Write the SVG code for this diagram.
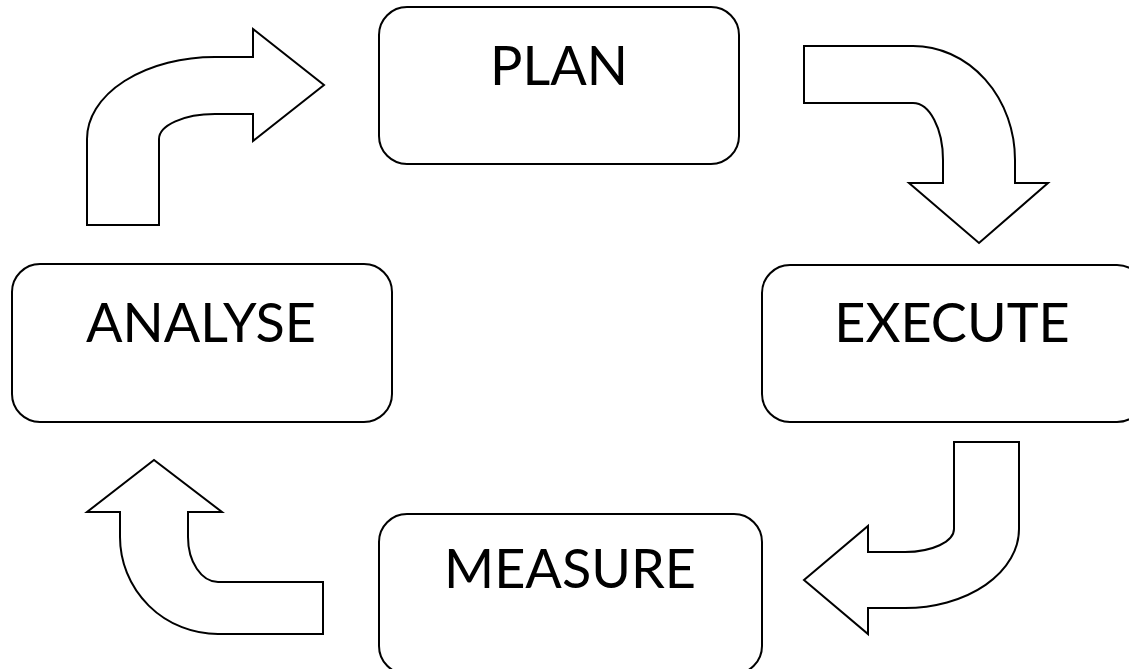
<svg xmlns="http://www.w3.org/2000/svg" width="1129" height="669" viewBox="0 0 1129 669">
  <style>
    .box { fill: #ffffff; stroke: #000000; stroke-width: 2; }
    .label { font-family: Lato, "Liberation Sans", sans-serif; font-size: 54px; fill: #000000; text-anchor: middle; }
    .flow { fill: #ffffff; stroke: #000000; stroke-width: 2; stroke-linejoin: miter; }
  </style>
  <rect width="1129" height="669" fill="#ffffff"/>

  <!-- block arrows linking the four stages clockwise -->
  <g id="connectors">
    <!-- ANALYSE to PLAN -->
    <path class="flow" d="M87,225 L87,139 A128,82 0 0 1 215,57 L253,57 L253,29 L324,85 L253,141 L253,114 L215,114 A56,25 0 0 0 159,139 L159,225 Z"/>
    <!-- PLAN to EXECUTE -->
    <path class="flow" d="M804,46 L913,46 A102,114 0 0 1 1015,160 L1015,183 L1048,183 L979,243 L909,183 L943,183 L943,160 A30,57 0 0 0 913,103 L804,103 Z"/>
    <!-- EXECUTE to MEASURE -->
    <path class="flow" d="M954,442 L1019,442 L1019,529 A114,79 0 0 1 905,608 L868,608 L868,634 L804,580 L868,526 L868,552 L905,552 A49,23 0 0 0 954,529 Z"/>
    <!-- MEASURE to ANALYSE -->
    <path class="flow" d="M323,634 L218,634 A98,97 0 0 1 120,537 L120,512 L87,512 L154,460 L222,512 L188,512 L188,537 A30,45 0 0 0 218,582 L323,582 Z"/>
  </g>

  <g id="plan">
    <rect class="box" x="379" y="7" width="360" height="157" rx="28" ry="28"/>
    <text class="label" x="559" y="85">PLAN</text>
  </g>

  <g id="execute">
    <rect class="box" x="762" y="265" width="383" height="157" rx="28" ry="28"/>
    <text class="label" x="952" y="342">EXECUTE</text>
  </g>

  <g id="measure">
    <rect class="box" x="379" y="514" width="383" height="160" rx="28" ry="28"/>
    <text class="label" x="570" y="588">MEASURE</text>
  </g>

  <g id="analyse">
    <rect class="box" x="12" y="264" width="380" height="158" rx="28" ry="28"/>
    <text class="label" x="201" y="342">ANALYSE</text>
  </g>
</svg>
